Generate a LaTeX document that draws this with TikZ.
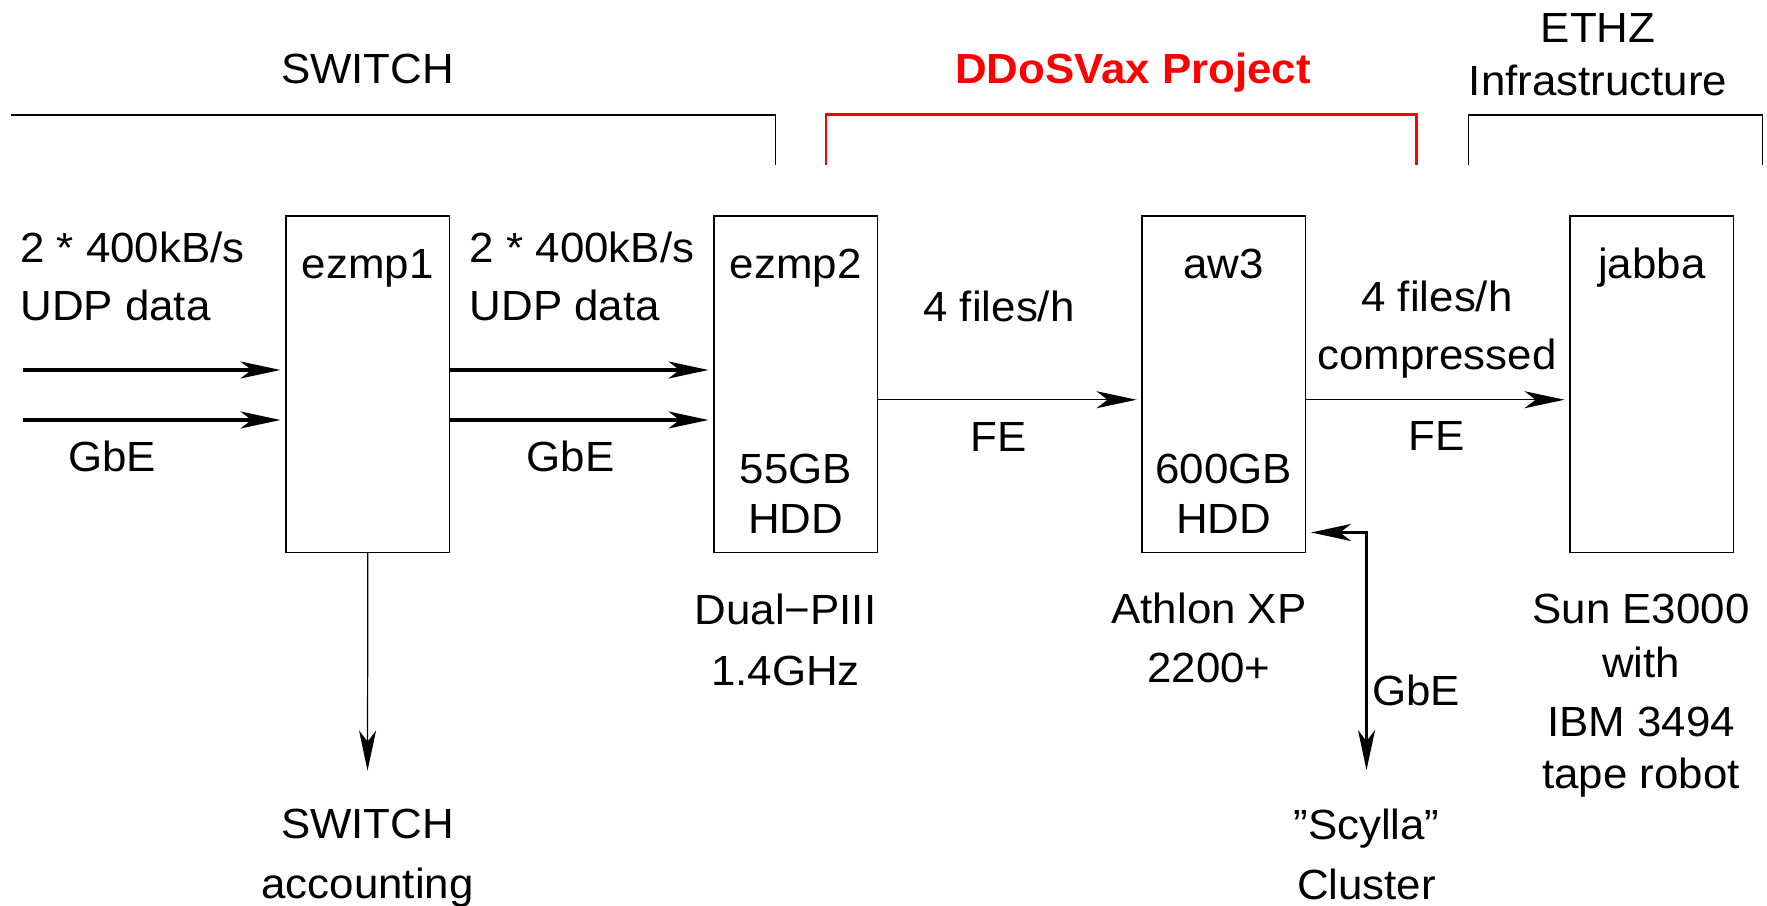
\documentclass[tikz,border=0pt]{standalone}
\usepackage{fontspec}
\setmainfont{Liberation Sans}[FakeStretch=1.04]
\usepackage{tikz}
\usetikzlibrary{arrows.meta, positioning}
\newcommand{\diagfont}{\fontsize{24}{28.45}\selectfont}

\begin{document}
\begin{tikzpicture}[
    box/.style={rectangle, draw=black, line width=0.75pt, minimum width=3.27cm, minimum height=6.73cm, inner sep=0pt, outer sep=0pt},
    txt/.style={font=\diagfont, inner sep=0pt, text height=0.6cm, text depth=0pt},
    multi/.style={font=\diagfont, inner sep=0pt, align=center},
    hd/.tip={Stealth[length=0.8cm, width=0.34cm, inset=0.22cm]},
    arrow/.style={-hd, line width=0.7pt, shorten >=0.11cm},
    thickarrow/.style={arrow, line width=1.8pt},
    bracket/.style={line width=0.75pt}
]
\useasboundingbox (0,0) rectangle (35.34,18.10);

% Domains
\node[txt] (switchtitle) at (7.35,16.73) {SWITCH};
\node[txt, text=red, font=\diagfont\bfseries] (ddosvax) at (22.66,16.73) {DDoSVax Project};
\node[multi] (ethz) at (31.96,17.01) {ETHZ\\[0.06cm]Infrastructure};
\draw[bracket] (0.22,15.80) -- (15.51,15.80) -- (15.51,14.79);
\draw[bracket, draw=red, line width=1.5pt] (16.52,14.79) -- (16.52,15.81) -- (28.33,15.81) -- (28.33,14.79);
\draw[bracket] (29.37,14.79) -- (29.37,15.80) -- (35.25,15.80) -- (35.25,14.79);

% Hosts
\node[box] (ezmp1) at (7.355,10.415) {};
\node[box, right=5.29cm of ezmp1] (ezmp2) {};
\node[box, right=5.29cm of ezmp2] (aw3) {};
\node[box, right=5.29cm of aw3] (jabba) {};

\node[txt, below=0.64cm of ezmp1.north] (ezmp1name) {ezmp1};
\node[txt, below=0.64cm of ezmp2.north] (ezmp2name) {ezmp2};
\node[txt, below=0.64cm of aw3.north] (aw3name) {aw3};
\node[txt, below=0.64cm of jabba.north] (jabbaname) {jabba};
\node[multi, above=0.38cm of ezmp2.south] (ezmp2disk) {55GB\\HDD};
\node[multi, above=0.38cm of aw3.south] (aw3disk) {600GB\\HDD};

% Hardware
\node[multi] (cpu1) at (15.71,5.31) {Dual−PIII\\[0.22cm]1.4GHz};
\node[multi] (cpu2) at (24.18,5.34) {Athlon XP\\[0.18cm]2200+};
\node[multi] (tape) at (32.82,4.18) {Sun E3000\\[0.07cm]with\\[0.18cm]IBM 3494\\[0.05cm]tape robot};
\node[multi] (acct) at (7.35,0.93) {SWITCH\\[0.2cm]accounting};
\node[multi] (scylla) at (27.33,1.01) {''Scylla''\\[0.2cm]Cluster};

% Link labels
\node[multi, anchor=west, align=left] (inrate) at (0.40,12.57) {2 * 400kB/s\\[0.16cm]UDP data};
\node[multi, anchor=west, align=left] (midrate) at (9.39,12.57) {2 * 400kB/s\\[0.16cm]UDP data};
\node[txt] (gbe1) at (2.24,8.96) {GbE};
\node[txt] (gbe2) at (11.41,8.96) {GbE};
\node[txt] (files1) at (19.98,11.97) {4 files/h};
\node[txt] (fe1) at (19.98,9.36) {FE};
\node[multi] (files2) at (28.74,11.51) {4 files/h\\[0.16cm]compressed};
\node[txt] (fe2) at (28.74,9.38) {FE};
\node[txt] (gbe3) at (28.32,4.28) {GbE};

% Arrows
\coordinate (src1) at (0.45,10.70);
\coordinate (src2) at (0.45,9.70);
\draw[thickarrow] (src1) -- (src1 -| ezmp1.west);
\draw[thickarrow] (src2) -- (src2 -| ezmp1.west);
\draw[thickarrow] (src1 -| ezmp1.east) -- (src1 -| ezmp2.west);
\draw[thickarrow] (src2 -| ezmp1.east) -- (src2 -| ezmp2.west);
\draw[arrow] ([yshift=-0.31cm]ezmp2.east) -- ([yshift=-0.31cm]aw3.west);
\draw[arrow] ([yshift=-0.31cm]aw3.east) -- ([yshift=-0.31cm]jabba.west);
\draw[arrow, shorten >=0.77cm] (ezmp1.south) -- (acct.north);
\draw[thickarrow, hd-hd, shorten <=0.11cm, shorten >=0.77cm] ([yshift=0.40cm]aw3.south east) -| (scylla.north);

\end{tikzpicture}
\end{document}
